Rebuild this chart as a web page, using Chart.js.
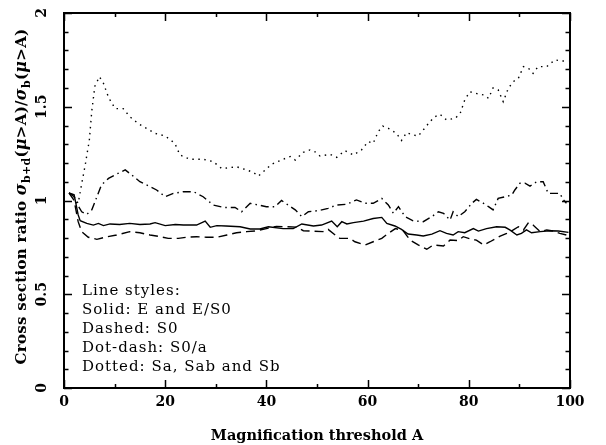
<!DOCTYPE html>
<html><head><meta charset="utf-8">
<script src="https://cdn.jsdelivr.net/npm/chart.js@4/dist/chart.umd.min.js"></script>
<style>html,body{margin:0;padding:0;background:#fff}#wrap{width:606px;height:445px}</style>
</head><body><div id="wrap"><canvas id="c" width="606" height="445"></canvas></div>
<script>
const solidA=[1,2,2.8,3.2,4.5,5.8,6.8,7.8,9.1,11,13,15,17,18,20,22,23.6,26.2,27.9,28.9,30.2,32,34.8,36.8,38.7,40.4,43.3,45.3,47,49.3,50.9,52.9,54,54.9,55.9,57.2,59.2,61.1,62.8,63.8,65.4,66.7,68,69.7,71,72.7,74.3,75.6,76.9,77.9,79.2,80.9,81.9,83.5,85.5,87.2,88.1,89.5,90.4,91.4,92.4,94.1,96,97.7,99.7];
const solidV=[1.04,1.03,0.923,0.892,0.878,0.869,0.878,0.866,0.875,0.872,0.878,0.872,0.875,0.882,0.866,0.872,0.869,0.869,0.89,0.857,0.866,0.864,0.86,0.848,0.848,0.86,0.85,0.85,0.875,0.864,0.869,0.89,0.86,0.887,0.875,0.882,0.89,0.904,0.91,0.878,0.864,0.846,0.821,0.816,0.811,0.821,0.839,0.825,0.816,0.834,0.828,0.85,0.837,0.85,0.86,0.857,0.843,0.816,0.825,0.843,0.828,0.834,0.839,0.837,0.83];
const dashedA=[1,2,2.8,3.5,4.8,6.5,8.1,10.4,13,15,17,19,20.6,22.6,24.2,26.2,28.2,30.2,32.2,34.1,36.1,37.7,40,42,44,46,47.3,49,51.2,52.2,53.6,54.5,56.5,57.5,59.5,61.1,62.8,64.1,65.5,67,68.4,70,71.7,73,75,76.3,77.9,78.9,80.6,81.5,82.9,84.2,86.2,87.5,88.8,89.8,90.8,91.8,92.7,94.1,95.4,96.7,98,99.3];
const dashedV=[1.04,1.0,0.887,0.834,0.804,0.793,0.804,0.816,0.834,0.828,0.816,0.807,0.798,0.798,0.804,0.807,0.804,0.804,0.816,0.828,0.834,0.837,0.85,0.862,0.86,0.858,0.839,0.837,0.834,0.846,0.816,0.798,0.798,0.78,0.763,0.78,0.798,0.825,0.85,0.84,0.789,0.763,0.74,0.763,0.757,0.789,0.786,0.807,0.793,0.789,0.763,0.78,0.81,0.825,0.843,0.86,0.843,0.882,0.869,0.834,0.843,0.837,0.825,0.816];
const dotdashA=[1,2,2.5,3.5,4.5,5.5,6.5,7.4,8.8,10.4,12.1,13.4,15,17,18.3,20,21.6,23.6,25.6,27.5,29.5,31.5,33.8,35.1,36.8,38.4,40,41.7,43,44.3,45.7,47,48.3,50.3,52.2,53.9,55.9,57.8,59.5,61.1,62.8,64.1,65.1,66.1,67.4,69,71,72.7,74,75,76.3,76.9,77.9,79.2,80.6,81.5,82.9,83.9,84.8,85.8,87.2,88.5,89.1,90.1,91.1,92.1,93.4,94.7,95.7,97,98,98.7,99.3];
const dotdashV=[1.04,1.02,0.985,0.94,0.926,0.95,1.02,1.083,1.118,1.141,1.163,1.136,1.1,1.074,1.056,1.02,1.038,1.047,1.047,1.02,0.976,0.963,0.963,0.94,0.985,0.976,0.967,0.967,1.0,0.976,0.95,0.914,0.94,0.946,0.958,0.976,0.98,1.003,0.985,0.985,1.011,0.976,0.932,0.967,0.914,0.892,0.887,0.914,0.94,0.932,0.896,0.94,0.914,0.94,0.985,1.006,0.985,0.967,0.95,1.011,1.02,1.029,1.056,1.092,1.092,1.077,1.1,1.1,1.038,1.038,1.038,1.003,0.985];
const dottedA=[1,2,2.8,3.5,4.2,4.5,5.0,5.5,6.1,7.0,7.8,8.8,10.1,11.7,13.0,14.7,16.3,18.0,20,21.9,22.9,24.9,27.5,29.5,31.2,34.1,36.1,37.4,38.4,39.4,41.0,43.3,44.7,45.7,47.3,48.6,49.6,50.6,52.6,53.9,55.5,57.2,58.8,60.1,61.1,62.1,63.0,64.1,65.7,66.7,67.7,69.0,70.0,71.0,72.3,73.3,74.3,75.6,77.3,78.3,79.2,80.2,81.6,82.9,83.9,84.8,85.8,86.8,87.8,88.8,89.8,90.8,91.8,92.7,93.7,95.4,97.0,98.4,99.7];
const dottedV=[1.04,1.02,0.985,1.09,1.19,1.24,1.32,1.48,1.61,1.66,1.625,1.55,1.49,1.49,1.447,1.41,1.385,1.358,1.344,1.305,1.243,1.22,1.22,1.207,1.17,1.18,1.163,1.15,1.13,1.154,1.193,1.22,1.234,1.216,1.257,1.27,1.26,1.237,1.246,1.23,1.266,1.243,1.27,1.314,1.305,1.367,1.397,1.385,1.358,1.32,1.362,1.35,1.344,1.376,1.42,1.447,1.46,1.43,1.438,1.465,1.536,1.58,1.57,1.563,1.545,1.60,1.59,1.527,1.598,1.634,1.652,1.714,1.705,1.678,1.714,1.714,1.75,1.744,1.744];
const yTickLabels=["0","0.5","1","1.5","2"];
const yTickValues=[0,0.5,1,1.5,2];
const legendLines=["Line styles:","Solid: E and E/S0","Dashed: S0","Dot-dash: S0/a","Dotted: Sa, Sab and Sb"];
const xTitle="Magnification threshold A";
const yTitleParts=[["Cross section ratio ","n"],["σ","g"],["b+d","s"],["(","n"],["μ","g"],[">A)/","n"],["σ","g"],["b","s"],["(","n"],["μ","g"],[">A)","n"]];

const FF='"DejaVu Serif", serif';
function pts(a,v){return a.map((x,i)=>({x:x,y:v[i]}));}
function ds(label,a,v,dash){return {label,data:pts(a,v),borderColor:'#000',borderWidth:1.4,borderDash:dash,pointRadius:0,tension:0,fill:false};}

const decor={
  id:'decor',
  afterDraw(chart){
    const ctx=chart.ctx, ca=chart.chartArea, xs=chart.scales.x, ys=chart.scales.y;
    ctx.save();
    ctx.strokeStyle='#000';ctx.fillStyle='#000';ctx.lineWidth=2;
    ctx.strokeRect(ca.left,ca.top,ca.right-ca.left,ca.bottom-ca.top);
    ctx.lineWidth=1.5;
    ctx.beginPath();
    for(let i=0;i<=10;i++){
      const px=Math.round(xs.getPixelForValue(i*10))+0.5;
      const L=(i%2===0)?8:4;
      ctx.moveTo(px,ca.bottom);ctx.lineTo(px,ca.bottom-L);
      ctx.moveTo(px,ca.top);ctx.lineTo(px,ca.top+L);
    }
    for(let i=0;i<=20;i++){
      const py=Math.round(ys.getPixelForValue(i/10))+0.5;
      const L=(i%5===0)?8:4.5;
      ctx.moveTo(ca.left,py);ctx.lineTo(ca.left+L,py);
      ctx.moveTo(ca.right,py);ctx.lineTo(ca.right-L,py);
    }
    ctx.stroke();
    // rotated y tick labels
    ctx.font='bold 14px '+FF;ctx.textAlign='center';ctx.textBaseline='middle';
    yTickValues.forEach((v,i)=>{
      const py=ys.getPixelForValue(v);
      ctx.save();ctx.translate(42,py);ctx.rotate(-Math.PI/2);ctx.fillText(yTickLabels[i],0,0);ctx.restore();
    });
    // y title with subscripts
    const fonts={n:'bold 15px '+FF,g:'italic bold 16px '+FF,s:'bold 11px '+FF};
    ctx.save();
    ctx.letterSpacing='0.3px';
    let total=0;
    yTitleParts.forEach(p=>{ctx.font=fonts[p[1]];total+=ctx.measureText(p[0]).width;});
    ctx.translate(22,(ca.top+ca.bottom)/2-4);ctx.rotate(-Math.PI/2);
    ctx.textAlign='left';ctx.textBaseline='middle';
    let cx=-total/2;
    yTitleParts.forEach(p=>{ctx.font=fonts[p[1]];const dy=p[1]==='s'?5:0;ctx.fillText(p[0],cx,dy);cx+=ctx.measureText(p[0]).width;});
    ctx.restore();
    // legend text
    ctx.save();
    ctx.letterSpacing='1px';
    ctx.font='15px '+FF;ctx.textAlign='left';ctx.textBaseline='middle';
    legendLines.forEach((t,i)=>ctx.fillText(t,82,291+19.1*i));
    ctx.restore();
    ctx.restore();
  }
};

new Chart(document.getElementById('c'),{
  type:'line',
  data:{datasets:[
    ds('Solid: E and E/S0',solidA,solidV,[]),
    ds('Dashed: S0',dashedA,dashedV,[9,5]),
    ds('Dot-dash: S0/a',dotdashA,dotdashV,[8,4,1.5,4]),
    ds('Dotted: Sa, Sab and Sb',dottedA,dottedV,[1.5,4.5])
  ]},
  options:{
    responsive:false,animation:false,devicePixelRatio:1,
    layout:{padding:{left:0,top:13,right:36,bottom:0}},
    plugins:{legend:{display:false},tooltip:{enabled:false}},
    scales:{
      x:{type:'linear',min:0,max:100,
        ticks:{stepSize:20,color:'#000',font:{family:FF,size:14,weight:'bold'},padding:6,maxRotation:0},
        grid:{display:false,drawTicks:false},border:{display:false},
        title:{display:true,text:xTitle,color:'#000',font:{family:FF,size:14.5,weight:'bold'},padding:{top:0,bottom:0}},
        afterFit:s=>{s.height=57;}},
      y:{type:'linear',min:0,max:2,
        ticks:{display:false,stepSize:0.5},
        grid:{display:false,drawTicks:false},border:{display:false},
        afterFit:s=>{s.width=64;}}
    }
  },
  plugins:[decor]
});
</script></body></html>
